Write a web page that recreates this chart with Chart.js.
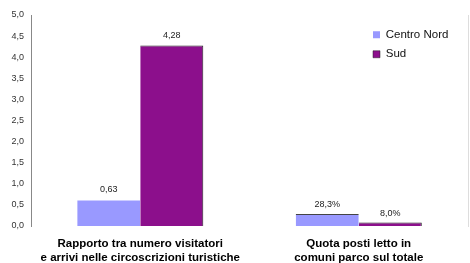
<!DOCTYPE html>
<html>
<head>
<meta charset="utf-8">
<script src="https://cdn.jsdelivr.net/npm/chart.js@4/dist/chart.umd.min.js"></script>
<style>
html,body{margin:0;padding:0;background:#fff;}
#wrap{width:470px;height:263px;position:relative;}
</style>
</head>
<body>
<div id="wrap"><canvas id="c" width="470" height="263"></canvas></div>
<script>
const categories = [
  ["Rapporto tra numero visitatori", "e arrivi nelle circoscrizioni turistiche"],
  ["Quota posti letto in", "comuni parco sul totale"]
];
const seriesNames = ["Centro Nord", "Sud"];
const centroNord = [0.63, 0.283];
const sud = [4.28, 0.08];
const centroNordLabels = ["0,63", "28,3%"];
const sudLabels = ["4,28", "8,0%"];
const yTicks = [0, 0.5, 1, 1.5, 2, 2.5, 3, 3.5, 4, 4.5, 5];

const valueLabelPlugin = {
  id: 'valueLabels',
  afterDatasetsDraw(chart) {
    const ctx = chart.ctx;
    const texts = [centroNordLabels, sudLabels];
    ctx.save();
    ctx.font = '9px "Liberation Sans", Arial, sans-serif';
    ctx.fillStyle = '#222';
    ctx.textAlign = 'center';
    ctx.textBaseline = 'bottom';
    chart.data.datasets.forEach((ds, di) => {
      chart.getDatasetMeta(di).data.forEach((bar, i) => {
        ctx.fillText(texts[di][i], bar.x, bar.y - 5);
      });
    });
    ctx.restore();
  }
};

const legendMove = {
  id: 'legendMove',
  beforeDraw(chart) {
    const lg = chart.legend;
    const w = lg.right - lg.left;
    lg.left = 365;
    lg.right = 365 + w;
    lg.top = 21;
  }
};

new Chart(document.getElementById('c'), {
  type: 'bar',
  data: {
    labels: categories,
    datasets: [
      {
        label: seriesNames[0],
        data: centroNord,
        backgroundColor: '#9999FF',
        borderColor: ['rgba(0,0,0,0)', '#444'],
        borderWidth: {top: 1},
        borderSkipped: 'bottom',
        barPercentage: 1.0,
        categoryPercentage: 0.577
      },
      {
        label: seriesNames[1],
        data: sud,
        backgroundColor: '#8C0F8C',
        borderColor: '#222',
        borderWidth: {top: 1, right: 1},
        borderSkipped: 'bottom',
        barPercentage: 1.0,
        categoryPercentage: 0.577
      }
    ]
  },
  options: {
    responsive: false,
    animation: false,
    devicePixelRatio: 1,
    layout: {padding: {top: 15, right: 1, left: 0, bottom: 0}},
    plugins: {
      legend: {
        position: 'chartArea',
        align: 'start',
        labels: {
          boxWidth: 7,
          boxHeight: 7,
          padding: 8,
          color: '#111',
          font: {family: '"Liberation Sans", Arial, sans-serif', size: 11.5}
        }
      },
      tooltip: {enabled: false}
    },
    scales: {
      x: {
        grid: {display: false, drawTicks: false},
        border: {display: false},
        ticks: {
          color: '#000',
          padding: 11,
          maxRotation: 0,
          autoSkip: false,
          font: {family: '"Liberation Sans", Arial, sans-serif', size: 11.5, weight: 'bold', lineHeight: 1.2}
        },
        afterFit(s) { s.height = 37; }
      },
      y: {
        min: 0,
        max: 5,
        afterBuildTicks(s) { s.ticks = yTicks.map(v => ({value: v})); },
        grid: {display: false, drawTicks: false},
        border: {display: true, color: '#888', width: 1},
        ticks: {
          color: '#333',
          padding: 7,
          font: {family: '"Liberation Sans", Arial, sans-serif', size: 9},
          callback: v => v.toFixed(1).replace('.', ',')
        },
        afterFit(s) { s.width = 31; }
      },
      y2: {
        position: 'right',
        min: 0,
        max: 5,
        grid: {display: false, drawTicks: false},
        border: {display: true, color: '#ddd', width: 1},
        ticks: {display: false},
        afterFit(s) { s.width = 1; }
      }
    }
  },
  plugins: [valueLabelPlugin, legendMove]
});
</script>
</body>
</html>
